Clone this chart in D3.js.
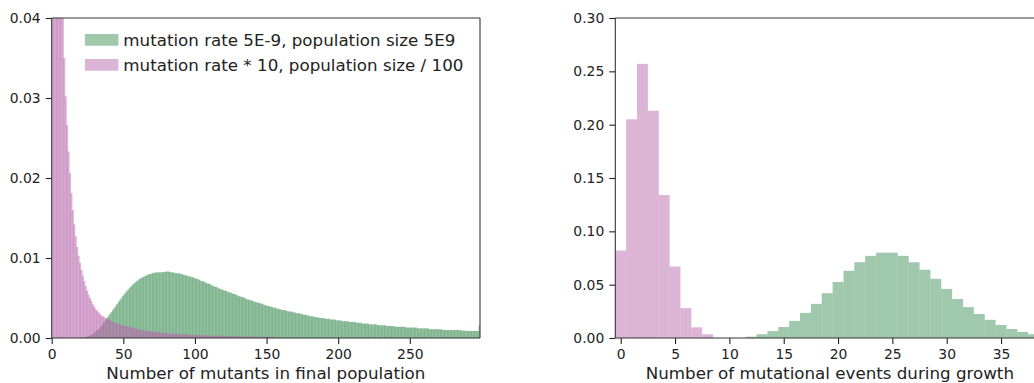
<!DOCTYPE html>
<html>

<head>
    <meta charset="UTF-8">
    <script src="https://d3js.org/d3.v7.min.js"></script>
    <title>Mutants and mutational events</title>
    <style type="text/css">
        body { margin: 0; background: #fff; }
        text { font-family: "DejaVu Sans", sans-serif; }
    </style>
</head>

<body>
    <script type="text/javascript">
        // left panel: probability per number of mutants (bins of width 1, bin i = [i, i+1))
        var mutantsGreen = [
            0, 0, 0, 0, 0, 0, 0, 0, 0, 0,
            0, 0, 0, 0, 0, 0, 0, 0, 0, 0.00001,
            0.00003, 0.00005, 0.00008, 0.00012, 0.00018, 0.00025, 0.00032, 0.0004, 0.0005, 0.00065,
            0.0008, 0.00095, 0.0011, 0.0013, 0.0015, 0.00175, 0.002, 0.00225, 0.0025, 0.00275,
            0.003, 0.00325, 0.0035, 0.00375, 0.004, 0.00425, 0.0045, 0.00475, 0.005, 0.00525,
            0.0055, 0.0057, 0.0059, 0.0061, 0.0063, 0.0065, 0.0067, 0.00685, 0.007, 0.00715,
            0.0073, 0.0074, 0.0075, 0.0076, 0.0077, 0.0078, 0.0079, 0.00795, 0.008, 0.00805,
            0.0081, 0.00815, 0.0082, 0.0082, 0.0082, 0.0082, 0.0082, 0.00825, 0.00825, 0.0083,
            0.0083, 0.0083, 0.00825, 0.0082, 0.0082, 0.00815, 0.0081, 0.0081, 0.0081, 0.008,
            0.008, 0.0079, 0.0079, 0.0078, 0.0078, 0.0077, 0.0077, 0.0076, 0.0076, 0.0075,
            0.0074, 0.0074, 0.0073, 0.0072, 0.0071, 0.0071, 0.007, 0.0069, 0.0068, 0.0068,
            0.0067, 0.0066, 0.0065, 0.0064, 0.0064, 0.0063, 0.0062, 0.0061, 0.0061, 0.006,
            0.0059, 0.0059, 0.0058, 0.0057, 0.0057, 0.0056, 0.0055, 0.0055, 0.0054, 0.0053,
            0.0052, 0.0052, 0.0051, 0.0051, 0.005, 0.0049, 0.0048, 0.0048, 0.0047, 0.0047,
            0.0046, 0.0045, 0.0045, 0.0044, 0.0044, 0.0043, 0.0043, 0.0042, 0.0041, 0.0041,
            0.004, 0.004, 0.0039, 0.0039, 0.0038, 0.0038, 0.0037, 0.0037, 0.0036, 0.0036,
            0.0035, 0.0035, 0.0035, 0.0034, 0.0034, 0.0033, 0.0033, 0.0033, 0.0032, 0.0032,
            0.0031, 0.0031, 0.0031, 0.003, 0.003, 0.0029, 0.0029, 0.0029, 0.0028, 0.0028,
            0.0027, 0.0027, 0.0027, 0.0026, 0.0026, 0.0026, 0.0025, 0.0025, 0.0025, 0.0025,
            0.0024, 0.0024, 0.0024, 0.0024, 0.0023, 0.0023, 0.0023, 0.0023, 0.0022, 0.0022,
            0.0022, 0.0022, 0.0021, 0.0021, 0.0021, 0.0021, 0.0021, 0.002, 0.002, 0.002,
            0.002, 0.002, 0.0019, 0.0019, 0.0019, 0.0019, 0.0018, 0.0018, 0.0018, 0.0018,
            0.0018, 0.0017, 0.0017, 0.0017, 0.0017, 0.0017, 0.0017, 0.0016, 0.0016, 0.0016,
            0.0016, 0.0016, 0.0016, 0.0015, 0.0015, 0.0015, 0.0015, 0.0015, 0.0015, 0.0014,
            0.0014, 0.0014, 0.0014, 0.0014, 0.0014, 0.0014, 0.0014, 0.0013, 0.0013, 0.0013,
            0.0013, 0.0013, 0.0013, 0.0013, 0.0013, 0.0012, 0.0012, 0.0012, 0.0012, 0.0012,
            0.0012, 0.0012, 0.0012, 0.0011, 0.0011, 0.0011, 0.0011, 0.0011, 0.0011, 0.0011,
            0.0011, 0.0011, 0.001, 0.001, 0.001, 0.001, 0.001, 0.001, 0.001, 0.001,
            0.001, 0.001, 0.001, 0.001, 0.00098, 0.00095, 0.00093, 0.00092, 0.0009, 0.0009,
            0.00088, 0.00088, 0.00088, 0.00088, 0.00088, 0.00088, 0.00088, 0.00088, 0.0016
        ];

        var mutantsPink = [
            0.082, 0.068, 0.062, 0.057, 0.052, 0.048, 0.045, 0.042, 0.035, 0.0302,
            0.0266, 0.0233, 0.0206, 0.0181, 0.016, 0.0142, 0.0127, 0.0114, 0.0103, 0.0094,
            0.0085, 0.0078, 0.0071, 0.0065, 0.0059, 0.0054, 0.005, 0.0046, 0.0042, 0.0039,
            0.0036, 0.0034, 0.0032, 0.003, 0.0028, 0.0027, 0.0026, 0.0025, 0.0024, 0.0023,
            0.0022, 0.0021, 0.002, 0.0019, 0.00185, 0.0018, 0.00172, 0.00165, 0.0016, 0.00156,
            0.00152, 0.00148, 0.00143, 0.00138, 0.00134, 0.0013, 0.00126, 0.00122, 0.00118, 0.00114,
            0.0011, 0.00106, 0.00102, 0.00098, 0.00094, 0.0009, 0.00087, 0.00084, 0.00082, 0.0008,
            0.00078, 0.00076, 0.00074, 0.00072, 0.0007, 0.00068, 0.00067, 0.00065, 0.00063, 0.00061,
            0.00058, 0.00057, 0.00055, 0.00054, 0.00053, 0.00052, 0.0005, 0.00049, 0.00048, 0.00047,
            0.00046, 0.00045, 0.00044, 0.00043, 0.00042, 0.00041, 0.0004, 0.00039, 0.00038, 0.00038,
            0.00037, 0.00036, 0.00036, 0.00035, 0.00034, 0.00034, 0.00033, 0.00032, 0.00032, 0.00031,
            0.0003, 0.0003, 0.00029, 0.00029, 0.00028, 0.00027, 0.00027, 0.00026, 0.00025, 0.00025,
            0.00024, 0.00024, 0.00023, 0.00023, 0.00022, 0.00022, 0.00022, 0.00021, 0.00021, 0.0002,
            0.0002, 0.0002, 0.00019, 0.00019, 0.00019, 0.00018, 0.00018, 0.00018, 0.00017, 0.00017,
            0.00017, 0.00016, 0.00016, 0.00016, 0.00015, 0.00015, 0.00015, 0.00015, 0.00014, 0.00014,
            0.00014, 0.00014, 0.00013, 0.00013, 0.00013, 0.00013
        ];

        // right panel: probability per number of mutational events (bin i centred on i)
        var eventsGreen = [
            0, 0, 0, 0, 0, 0, 0, 0, 0, 0, 0, 0,
            0.0012, 0.0035, 0.0065, 0.0103, 0.016, 0.0235, 0.032, 0.042, 0.0525, 0.063,
            0.071, 0.077, 0.080, 0.080, 0.077, 0.071, 0.064, 0.0555, 0.046, 0.0366,
            0.029, 0.0225, 0.017, 0.0122, 0.0084, 0.0056, 0.0035
        ];
        var eventsPink = [0.082, 0.205, 0.257, 0.213, 0.134, 0.067, 0.028, 0.010, 0.0035];

        // tick labels
        var mutantsXTicks = [0, 50, 100, 150, 200, 250];
        var mutantsYTicks = [0, 0.01, 0.02, 0.03, 0.04];
        var eventsXTicks = [0, 5, 10, 15, 20, 25, 30, 35];
        var eventsYTicks = [0, 0.05, 0.10, 0.15, 0.20, 0.25, 0.30];

        var legendLabels = ["mutation rate 5E-9, population size 5E9", "mutation rate * 10, population size / 100"];
        var green = "#41915a", pink = "#b969ad";

        var plotTop = 18, plotHeight = 320;
        var tickFont = 13.9, labelFont = 16.7, ink = "#222";

        var svg = d3.select("body")
            .append("svg")
            .attr("width", 1034)
            .attr("height", 383);

        function drawPanel(p) {
            var g = svg.append("g")
                .attr("transform", "translate(" + p.left + "," + plotTop + ")");

            var x = d3.scaleLinear().domain(p.xDomain).range([0, p.width]);
            var y = d3.scaleLinear().domain(p.yDomain).range([plotHeight, 0]);

            // keep bars inside the axes box
            svg.append("defs").append("clipPath")
                .attr("id", "clip-" + p.id)
                .append("rect")
                .attr("width", p.width)
                .attr("height", plotHeight);

            var bars = g.append("g").attr("clip-path", "url(#clip-" + p.id + ")");

            p.series.forEach(function (s) {
                var rows = s.values
                    .map(function (v, i) { return { bin: i, value: v }; })
                    .filter(function (d) { return d.value > 0; });

                // narrow bars overlap a little, which gives the darker seams
                bars.append("g")
                    .selectAll("rect")
                    .data(rows)
                    .join("rect")
                    .attr("x", function (d) { return x(d.bin + p.shift); })
                    .attr("width", function (d) { return x(d.bin + p.shift + 1) - x(d.bin + p.shift) + p.overlap; })
                    .attr("y", function (d) { return y(d.value); })
                    .attr("height", function (d) { return y(0) - y(d.value); })
                    .attr("fill", s.color)
                    .attr("fill-opacity", 0.5);
            });

            // axes
            var xAxis = g.append("g")
                .attr("transform", "translate(0," + plotHeight + ")")
                .call(d3.axisBottom(x).tickValues(p.xTicks).tickSize(6).tickPadding(5).tickFormat(d3.format("d")));
            var yAxis = g.append("g")
                .call(d3.axisLeft(y).tickValues(p.yTicks).tickSize(6).tickPadding(5).tickFormat(d3.format(".2f")));

            [xAxis, yAxis].forEach(function (a) {
                a.select(".domain").remove();
                a.attr("font-size", tickFont)
                    .attr("font-family", "DejaVu Sans")
                    .style("color", ink);
                a.selectAll("line").attr("stroke-width", 1.1);
            });

            // spines
            var spines = [
                [0, 0, 0, plotHeight],
                [0, plotHeight, p.width, plotHeight],
                [0, 0, p.width, 0]
            ];
            if (p.rightSpine) spines.push([p.width, 0, p.width, plotHeight]);
            g.selectAll(".spine")
                .data(spines)
                .join("line")
                .attr("class", "spine")
                .attr("x1", function (d) { return d[0]; })
                .attr("y1", function (d) { return d[1]; })
                .attr("x2", function (d) { return d[2]; })
                .attr("y2", function (d) { return d[3]; })
                .attr("stroke", "#333")
                .attr("stroke-width", 1.1);

            g.append("text")
                .attr("x", p.width / 2)
                .attr("y", 379 - plotTop)
                .attr("text-anchor", "middle")
                .style("font-size", labelFont + "px")
                .style("fill", ink)
                .text(p.label);

            return g;
        }

        var mutantsPanel = drawPanel({
            id: "mutants",
            left: 51.7,
            width: 428.3,
            xDomain: [0, 299],
            yDomain: [0, 0.04],
            xTicks: mutantsXTicks,
            yTicks: mutantsYTicks,
            shift: 0,
            overlap: 0.7,
            rightSpine: true,
            label: "Number of mutants in final population",
            series: [{ values: mutantsGreen, color: green }, { values: mutantsPink, color: pink }]
        });

        drawPanel({
            id: "events",
            left: 615.3,
            width: 429.2,
            xDomain: [-0.5, 39],
            yDomain: [0, 0.30],
            xTicks: eventsXTicks,
            yTicks: eventsYTicks,
            shift: -0.5,
            overlap: 0,
            rightSpine: true,
            label: "Number of mutational events during growth",
            series: [{ values: eventsGreen, color: green }, { values: eventsPink, color: pink }]
        });

        // legend in the left panel
        var legend = mutantsPanel.append("g")
            .selectAll("g")
            .data(legendLabels)
            .join("g")
            .attr("transform", function (d, i) { return "translate(33.3," + (16 + i * 25) + ")"; });

        legend.append("rect")
            .attr("width", 33.4)
            .attr("height", 11.7)
            .attr("fill", function (d, i) { return i === 0 ? green : pink; })
            .attr("fill-opacity", 0.5);

        legend.append("text")
            .attr("x", 38.3)
            .attr("y", 11.7)
            .style("font-size", labelFont + "px")
            .style("fill", ink)
            .text(function (d) { return d; });
    </script>
</body>

</html>
